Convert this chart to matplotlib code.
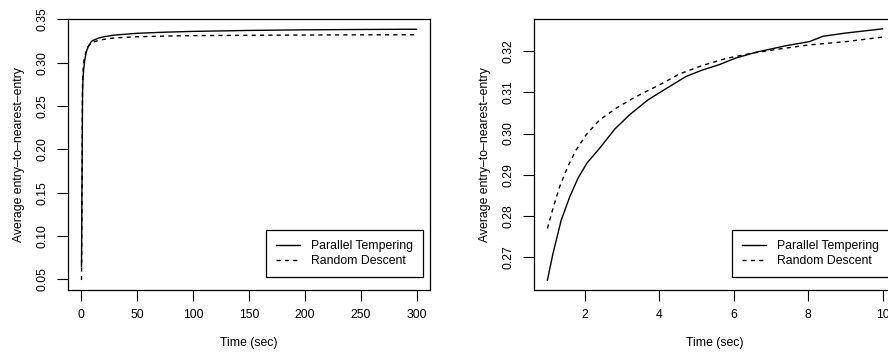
import numpy as np
import matplotlib
matplotlib.use("Agg")
import matplotlib.pyplot as plt

plt.rcParams['font.family'] = ['Liberation Sans', 'DejaVu Sans']

# short run, 1..10 s (right panel)
pt_t = [1.0, 1.15, 1.37, 1.6, 1.82, 2.06, 2.4, 2.81, 3.21, 3.7, 4.0, 4.36, 4.72,
        5.17, 5.62, 6.06, 6.6, 7.41, 8.04, 8.4, 9.03, 10.0]
pt_v = [0.2643, 0.2708, 0.2789, 0.2846, 0.2891, 0.2928, 0.2964, 0.3011, 0.3046,
        0.3082, 0.3099, 0.3119, 0.3139, 0.3155, 0.3168, 0.3184, 0.3198, 0.3214,
        0.3224, 0.3237, 0.3245, 0.3255]
rd_t = [1.0, 1.15, 1.33, 1.55, 1.77, 2.04, 2.4, 2.85, 3.3, 3.75, 4.0, 4.54, 5.17,
        5.8, 6.51, 7.23, 8.04, 9.03, 10.0]
rd_v = [0.2769, 0.2818, 0.2871, 0.2920, 0.2960, 0.2997, 0.3033, 0.3062, 0.3086,
        0.3107, 0.3118, 0.3145, 0.3166, 0.3183, 0.3196, 0.3206, 0.3216, 0.3224,
        0.3235]

# long run, 0..300 s (left panel): start and tail beyond 10 s
pt_start_t, pt_start_v = [0.1], [0.0646]
rd_start_t, rd_start_v = [0.1], [0.0492]
tail_t = [15, 20, 30, 50, 75, 100, 150, 200, 250, 300]
pt_tail_v = [0.3283, 0.3300, 0.3320, 0.3340, 0.3353, 0.3362, 0.3373, 0.3380,
             0.3384, 0.3387]
rd_tail_v = [0.3258, 0.3270, 0.3287, 0.3300, 0.3308, 0.3313, 0.3317, 0.3320,
             0.3322, 0.3323]

lw = 1.0
dash = (0, (3, 3))
fs = 8.8

fig = plt.figure(figsize=(8.88, 3.54), dpi=100)
ax1 = fig.add_axes([68 / 888, 1 - 290 / 354, 362 / 888, 271 / 354])
ax2 = fig.add_axes([534 / 888, 1 - 290 / 354, 362 / 888, 271 / 354])

ax1.plot(pt_start_t + pt_t + tail_t, pt_start_v + pt_v + pt_tail_v,
         color='black', lw=lw, label='Parallel Tempering')
ax1.plot(rd_start_t + rd_t + tail_t, rd_start_v + rd_v + rd_tail_v,
         color='black', lw=lw, ls=dash, label='Random Descent')
ax1.set_xlim(-12, 312)
ax1.set_ylim(0.0377, 0.3505)
ax1.set_xticks([0, 50, 100, 150, 200, 250, 300])
ax1.set_yticks([0.05, 0.10, 0.15, 0.20, 0.25, 0.30, 0.35])
ax1.set_yticklabels(['0.05', '0.10', '0.15', '0.20', '0.25', '0.30', '0.35'])

ax2.plot(pt_t, pt_v, color='black', lw=lw, label='Parallel Tempering')
ax2.plot(rd_t, rd_v, color='black', lw=lw, ls=dash, label='Random Descent')
ax2.set_xlim(0.64, 10.36)
ax2.set_ylim(0.2619, 0.3279)
ax2.set_xticks([2, 4, 6, 8, 10])
ax2.set_yticks([0.27, 0.28, 0.29, 0.30, 0.31, 0.32])
ax2.set_yticklabels(['0.27', '0.28', '0.29', '0.30', '0.31', '0.32'])

for ax in (ax1, ax2):
    ax.set_xlabel('Time (sec)', fontsize=fs)
    ax.set_ylabel('Average entry\u2013to\u2013nearest\u2013entry', fontsize=fs)
    ax.xaxis.set_label_coords(0.5, (290 - 337) / 271)
    ax.yaxis.set_label_coords((25 - 68) / 362, 0.5)
    ax.tick_params(direction='out', length=8, width=0.8, labelsize=fs, pad=6)
    for lab in ax.get_yticklabels():
        lab.set_rotation(90)
        lab.set_va('center')
    for s in ax.spines.values():
        s.set_linewidth(0.9)
    leg = ax.legend(loc='lower right', bbox_to_anchor=(1 - 7 / 362, 13 / 271),
                    fontsize=fs, frameon=True, fancybox=False, framealpha=1,
                    edgecolor='black', handlelength=2.0, handletextpad=0.9,
                    borderpad=0.8, labelspacing=0.25, borderaxespad=0)
    leg.get_frame().set_linewidth(0.9)

fig.savefig('out.png', dpi=100)
